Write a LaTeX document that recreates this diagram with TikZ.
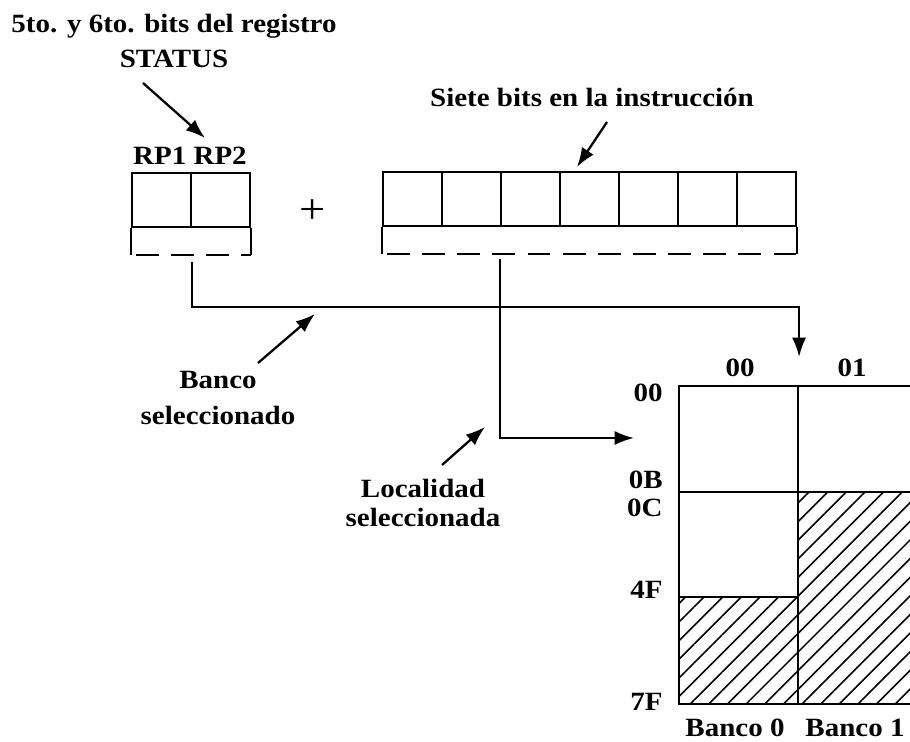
\documentclass[tikz,border=0pt]{standalone}
\usepackage{fontspec}
\setmainfont{Liberation Serif}[FakeStretch=1.1]
\usepackage{tikz}
\usetikzlibrary{arrows.meta}
\usetikzlibrary{patterns.meta}
\tikzset{
  rotulo/.style={font=\bfseries\fontsize{15}{20}\selectfont, inner sep=0pt, align=center},
  celda/.style={draw, line width=1.4pt, minimum width=1.18cm, minimum height=1.08cm, inner sep=0pt},
  banco/.style={draw, line width=1.2pt, minimum width=2.38cm, minimum height=6.36cm, inner sep=0pt, anchor=north west},
  flecha/.style={-{Latex[length=11pt,width=8pt]}, line width=1.3pt},
  llave/.style={line width=1.3pt, dash pattern=on 13pt off 7pt, dash phase=17pt},
  rayado/.style={pattern={Lines[angle=45,distance=7.5pt,line width=0.9pt]}},
}

\begin{document}
\begin{tikzpicture}[x=0.02cm,y=-0.02cm]
\useasboundingbox (0,0) rectangle (910,742);
\clip (0,0) rectangle (910,742);

% registro STATUS
\node[rotulo] (status) at (174,41) {5to. y 6to. bits del registro\\STATUS};
\node[rotulo] (rp) at (190,156) {RP1 RP2};
\node[celda] (rp1) at (161.5,200) {};
\node[celda] (rp2) at (220.5,200) {};
\node[font=\fontsize{24}{26}\selectfont] (mas) at (313,212) {+};

% bits de la instruccion
\node[rotulo] (siete) at (592,98) {Siete bits en la instrucción};
\foreach \i in {1,...,7}
  \node[celda] (b\i) at ({383+59*\i-29.5},199) {};

% llaves punteadas
\draw[line width=1.3pt] (rp1.south west) -- ++(0,27) coordinate (ci1);
\draw[line width=1.3pt] (rp2.south east) -- ++(0,27) coordinate (cd1);
\draw[llave] (ci1) -- (cd1);
\draw[line width=1.3pt] (b1.south west) -- ++(0,27) coordinate (ci2);
\draw[line width=1.3pt] (b7.south east) -- ++(0,27) coordinate (cd2);
\draw[llave] (ci2) -- (cd2);

% mapa de memoria
\path[rayado] (678,597) rectangle (797,703);
\path[rayado] (797,492) rectangle (916,703);
\node[banco] (banco0) at (678,385) {};
\node[banco] (banco1) at (797,385) {};
\draw[line width=1.2pt] (678,492) -- (916,492);
\draw[line width=1.2pt] (678,597) -- (797,597);

\node[rotulo] (c00) at (740,368) {00};
\node[rotulo] (c01) at (852,368) {01};
\node[rotulo,anchor=east] (f00) at (663,393) {00};
\node[rotulo,anchor=east] (f0B) at (663,480) {0B};
\node[rotulo,anchor=east] (f0C) at (663,508) {0C};
\node[rotulo,anchor=east] (f4F) at (663,590) {4F};
\node[rotulo,anchor=east] (f7F) at (663,702) {7F};
\node[rotulo] (nb0) at (735,728) {Banco 0};
\node[rotulo] (nb1) at (855,728) {Banco 1};

% lineas de seleccion
\path (rp1.south east) ++(0,34) coordinate (bsel);
\path (b3.south west) ++(0,32) coordinate (lsel);
\coordinate (entrada) at (634,438);
\draw[flecha] (bsel) -- ++(0,45) -| ([yshift=0.56cm]banco0.north east);
\draw[flecha] (lsel) |- (entrada);

% rotulos con flecha
\node[rotulo] (bsel_t) at (218,398) {Banco\\seleccionado};
\node[rotulo] (lsel_t) at (423,503) {Localidad\\[-4pt]seleccionada};
\coordinate (p1) at (143,83);
\coordinate (p2) at (607,122);
\coordinate (p3) at (258,363);
\coordinate (p4) at (442,465);
\draw[flecha] (p1) -- (205,138) coordinate (q1);
\draw[flecha] (p2) -- (577,167) coordinate (q2);
\draw[flecha] (p3) -- (315,314) coordinate (q3);
\draw[flecha] (p4) -- (485,427) coordinate (q4);
\end{tikzpicture}
\end{document}
